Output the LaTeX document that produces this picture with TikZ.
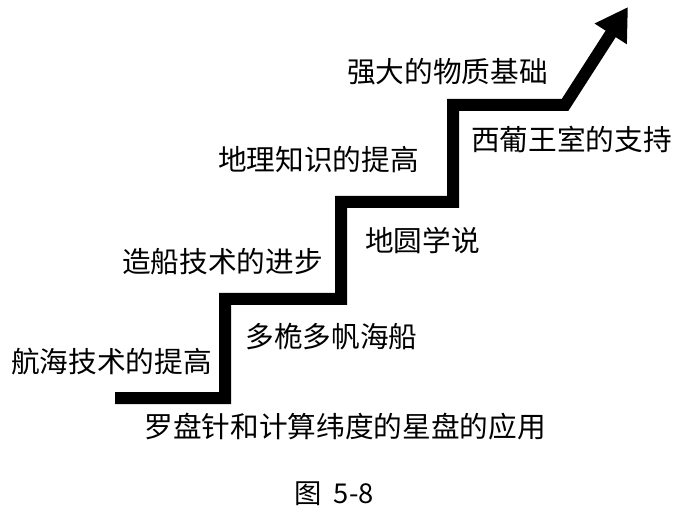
\documentclass[tikz,border=0pt]{standalone}
\usepackage{fontspec}
\usepackage{tikz}
\usetikzlibrary{arrows.meta}
\newfontfamily\cjk{Noto Sans CJK SC}

\begin{document}
\begin{tikzpicture}[x=0.75pt, y=-0.75pt,
    lbl/.style={font=\cjk\fontsize{21.5}{24}\selectfont, inner sep=0pt},
    stair/.style={line width=9pt, line join=miter, line cap=butt}]
  \useasboundingbox (0,0) rectangle (682,513);
  % corners of the staircase
  \foreach \nm/\x/\y in {s0/115/398, s1/225/398, s2/225/299, s3/341/299,
                         s4/341/202, s5/453/202, s6/453/105, s7/565/105, tip/628/7} {
    \coordinate (\nm) at (\x,\y);
  }
  \draw[stair, -{Triangle[length=24pt, width=27pt]}]
    (s0) -- (s1) -- (s2) -- (s3) -- (s4) -- (s5) -- (s6) -- (s7) -- (tip);
  % labels
  \foreach \nm/\x/\y/\txt in {
    hanghai/111.5/362/航海技术的提高,
    duowei/331.5/337/多桅多帆海船,
    luopan/345/427/罗盘针和计算纬度的星盘的应用,
    zaochuan/222.5/262/造船技术的进步,
    diyuan/422.5/240/地圆学说,
    dili/318.5/160/地理知识的提高,
    xipu/571.5/139/西葡王室的支持,
    wuzhi/447.5/72/强大的物质基础
  } {
    \node[lbl] (\nm) at (\x,\y) {\txt};
  }
  \node[font=\cjk\fontsize{20.5}{23}\selectfont, inner sep=0pt] (caption) at (334,494) {图\hspace{0.45em}5-8};
\end{tikzpicture}
\end{document}
